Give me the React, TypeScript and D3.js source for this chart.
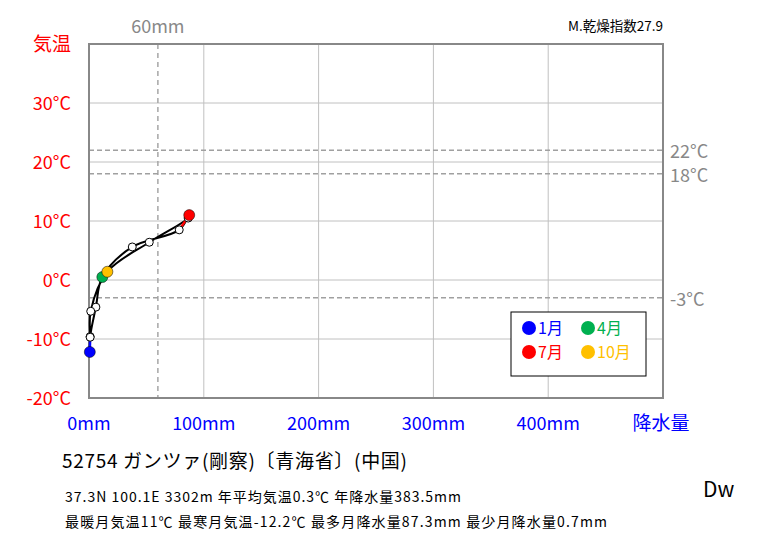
import React from "react";
import * as d3 from "d3";

const months = ["1月","2月","3月","4月","5月","6月","7月","8月","9月","10月","11月","12月"];
const precip = [0.7, 1.0, 6.0, 11.6, 37.7, 78.6, 87.3, 86.4, 52.5, 16.0, 1.5, 1.0];
const temp = [-12.2, -9.6, -4.6, 0.5, 5.6, 8.5, 11.0, 10.5, 6.4, 1.4, -5.3, -9.7];
const xTicks = [0, 100, 200, 300, 400];
const yTicks = [-20, -10, 0, 10, 20, 30];
const refTemps = [22, 18, -3];
const refPrecip = 60;
const legendMonths = [0, 3, 6, 9];
const monthColors: Record<number, string> = { 0: "#0000FF", 3: "#00B050", 6: "#FF0000", 9: "#FFC000" };
const titleText = "52754  ガンツァ(剛察)〔青海省〕(中国)";
const info1 = "37.3N   100.1E 3302m  年平均気温0.3℃ 年降水量383.5mm";
const info2 = "最暖月気温11℃ 最寒月気温-12.2℃ 最多月降水量87.3mm 最少月降水量0.7mm";
const dryIndex = "M.乾燥指数27.9";
const climate = "Dw";

const FONT = "'Noto Sans CJK JP', 'Noto Sans', sans-serif";

export default function App() {
  const W = 763, H = 545;
  const x = d3.scaleLinear().domain([0, 500]).range([89, 663]);
  const y = d3.scaleLinear().domain([-20, 40]).range([398, 44]);
  const pts: [number, number][] = precip.map((p, i) => [x(p), y(temp[i])]);
  const line = d3.line().curve(d3.curveCatmullRomClosed.alpha(0.5));
  const path = line(pts) || "";
  const seg = d3.line();
  const jan = seg([pts[11], pts[0]]) || "";
  const jul = seg([pts[5], pts[6]]) || "";
  const gray = "#888888";
  return (
    <svg width={W} height={H} style={{ position: "absolute", left: 0, top: 0, background: "#fff" }} fontFamily={FONT}>
      <rect x={0} y={0} width={W} height={H} fill="#fff" />
      {/* grid */}
      {xTicks.slice(1).map((t) => (
        <line key={"gx" + t} x1={x(t)} x2={x(t)} y1={y(40)} y2={y(-20)} stroke="#c0c0c0" strokeWidth={1} />
      ))}
      {yTicks.slice(1).map((t) => (
        <line key={"gy" + t} x1={x(0)} x2={x(500)} y1={y(t)} y2={y(t)} stroke="#c0c0c0" strokeWidth={1} />
      ))}
      {/* reference dashed */}
      <line x1={x(refPrecip)} x2={x(refPrecip)} y1={y(40)} y2={y(-20)} stroke="#a6a6a6" strokeWidth={1.5} strokeDasharray="5,4" />
      {refTemps.map((t) => (
        <line key={"rt" + t} x1={x(0)} x2={x(500)} y1={y(t)} y2={y(t)} stroke="#a0a0a0" strokeWidth={1.5} strokeDasharray="5,3" />
      ))}
      {/* frame */}
      <rect x={x(0)} y={y(40)} width={x(500) - x(0)} height={y(-20) - y(40)} fill="none" stroke={gray} strokeWidth={2} />
      {/* labels */}
      <text x={x(refPrecip)} y={33} textAnchor="middle" fontSize={18} fill={gray}>{refPrecip}mm</text>
      {refTemps.map((t) => (
        <text key={"rl" + t} x={670} y={y(t) + 8} fontSize={18} fill={gray}>{t}°C</text>
      ))}
      <text x={71} y={51} textAnchor="end" fontSize={19} fill="#FF0000">気温</text>
      {yTicks.map((t) => (
        <text key={"yl" + t} x={71} y={y(t) + 7} textAnchor="end" fontSize={18} fill="#FF0000">{t}°C</text>
      ))}
      {xTicks.map((t) => (
        <text key={"xl" + t} x={x(t)} y={430} textAnchor="middle" fontSize={18} fill="#0000FF">{t}mm</text>
      ))}
      <text x={661} y={430} textAnchor="middle" fontSize={19} fill="#0000FF">降水量</text>
      <text x={663} y={31} textAnchor="end" fontSize={13.5} fill="#000">{dryIndex}</text>
      {/* curve */}
      <path d={path} fill="none" stroke="#000" strokeWidth={2} />
      <path d={jan} fill="none" stroke={monthColors[0]} strokeWidth={2.5} />
      <path d={jul} fill="none" stroke={monthColors[6]} strokeWidth={2.5} />
      {pts.map((p, i) => (monthColors[i] ? null : (
        <circle key={"p" + i} cx={p[0]} cy={p[1]} r={4} fill="#fff" stroke="#000" strokeWidth={1} />
      )))}
      {pts.map((p, i) => (monthColors[i] ? (
        <circle key={"c" + i} cx={p[0]} cy={p[1]} r={5.5} fill={monthColors[i]} stroke="#000" strokeWidth={0.5} />
      ) : null))}
      {/* legend */}
      <rect x={511} y={312} width={135} height={64} fill="#fff" stroke="#000" strokeWidth={1} />
      {legendMonths.map((m, k) => {
        const lx = 529 + (k % 2) * 59;
        const ly = 328 + Math.floor(k / 2) * 24;
        return (
          <g key={"lg" + m}>
            <circle cx={lx} cy={ly} r={7} fill={monthColors[m]} />
            <text x={lx + 9} y={ly + 6} fontSize={16} fill={monthColors[m]}>{months[m]}</text>
          </g>
        );
      })}
      {/* bottom text */}
      <text x={62} y={468} fontSize={19} fill="#000" textLength={345} lengthAdjust="spacing">{titleText}</text>
      <text x={65} y={502} fontSize={14} fill="#000" textLength={396} lengthAdjust="spacing">{info1}</text>
      <text x={65} y={527} fontSize={14} fill="#000" textLength={542} lengthAdjust="spacing">{info2}</text>
      <text x={703} y={497} fontSize={21} fill="#000">{climate}</text>
    </svg>
  );
}
